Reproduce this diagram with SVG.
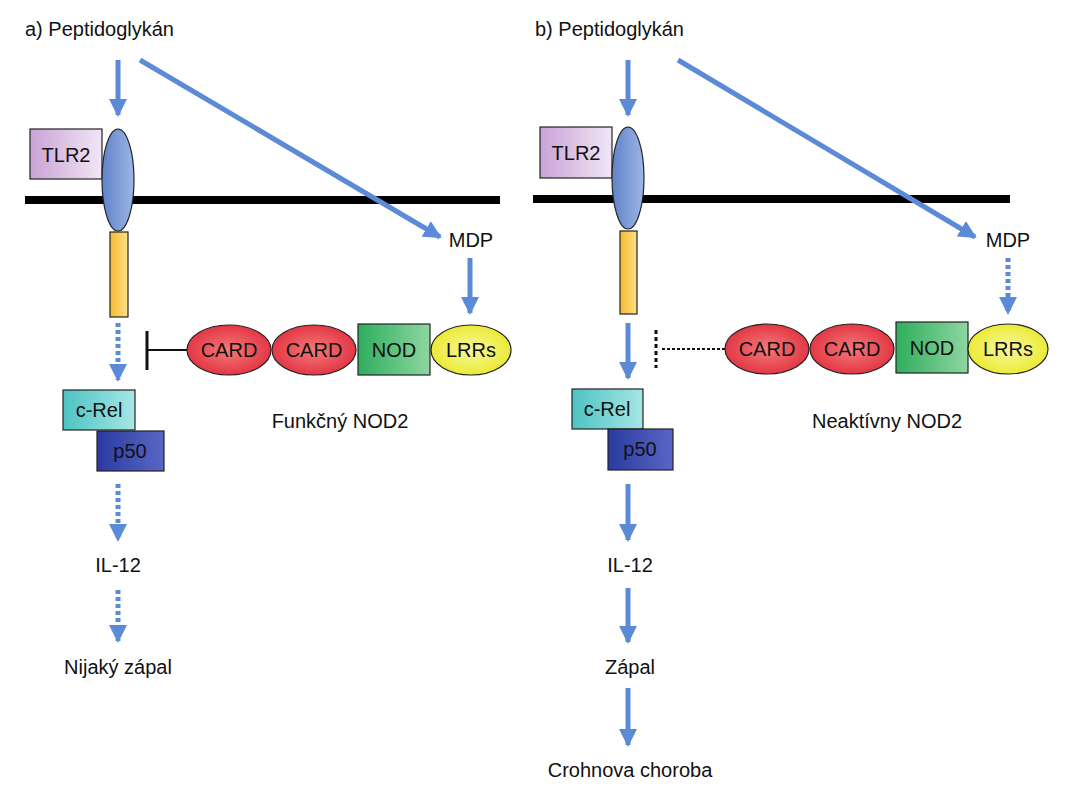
<svg xmlns="http://www.w3.org/2000/svg" width="1067" height="800" viewBox="0 0 1067 800">
<defs>
<marker id="ah" markerUnits="userSpaceOnUse" markerWidth="18" markerHeight="18" viewBox="0 0 18 18" refX="16" refY="9" orient="auto"><path d="M0,0 L18,9 L0,18 Z" fill="#5b8bd6"/></marker>
<linearGradient id="gTlr" x1="0" y1="0" x2="1" y2="0"><stop offset="0" stop-color="#c9a3d6"/><stop offset="1" stop-color="#f1e6f5"/></linearGradient>
<linearGradient id="gEl" x1="0" y1="0" x2="1" y2="0"><stop offset="0" stop-color="#5f82c8"/><stop offset="1" stop-color="#9cb6e6"/></linearGradient>
<linearGradient id="gOr" x1="0" y1="0" x2="1" y2="0"><stop offset="0" stop-color="#f5b92e"/><stop offset="1" stop-color="#ffe08a"/></linearGradient>
<linearGradient id="gRel" x1="0" y1="0" x2="1" y2="0"><stop offset="0" stop-color="#4ec3c3"/><stop offset="1" stop-color="#a6e6e6"/></linearGradient>
<linearGradient id="gP50" x1="0" y1="0" x2="1" y2="0"><stop offset="0" stop-color="#2a3aa0"/><stop offset="1" stop-color="#5a66c4"/></linearGradient>
<radialGradient id="gCard" cx="0.5" cy="0.5" r="0.6"><stop offset="0" stop-color="#f47a7a"/><stop offset="1" stop-color="#e02a3a"/></radialGradient>
<linearGradient id="gNod" x1="0" y1="0" x2="1" y2="0"><stop offset="0" stop-color="#2fae5e"/><stop offset="1" stop-color="#8dd6a0"/></linearGradient>
<radialGradient id="gLrr" cx="0.5" cy="0.5" r="0.6"><stop offset="0" stop-color="#f8f8a0"/><stop offset="1" stop-color="#e8e820"/></radialGradient>
</defs>
<style>
text{font-family:"Liberation Sans",Arial,sans-serif;font-size:20px;fill:#111}
.c{text-anchor:middle}
.sh{stroke:#222;stroke-width:1.2}
.a{stroke:#5b8bd6;stroke-width:5;fill:none;marker-end:url(#ah)}
.d{stroke-dasharray:4 3}
.mem{stroke:#000;stroke-width:8}
</style>
<rect width="1067" height="800" fill="#fff"/>
<g id="membranes">
<line class="mem" x1="25" y1="200" x2="500" y2="200"/>
<line class="mem" x1="533" y1="199" x2="1010" y2="199"/>
</g>
<g id="labels">
<text x="25" y="36">a) Peptidoglykán</text>
<text x="535" y="36">b) Peptidoglykán</text>
<text x="471" y="247" class="c">MDP</text>
<text x="1008" y="247" class="c">MDP</text>
<text x="340" y="428" class="c">Funkčný NOD2</text>
<text x="887" y="428" class="c">Neaktívny NOD2</text>
<text x="118" y="572" class="c">IL-12</text>
<text x="118" y="674" class="c">Nijaký zápal</text>
<text x="630" y="572" class="c">IL-12</text>
<text x="630" y="674" class="c">Zápal</text>
<text x="630" y="777" class="c">Crohnova choroba</text>
</g>
<g id="connectors">
<line class="a" x1="118" y1="60" x2="118" y2="115"/>
<line class="a" x1="140" y1="60" x2="440" y2="237"/>
<line class="a" x1="470" y1="258" x2="470" y2="313"/>
<line class="a d" x1="118" y1="323" x2="118" y2="380"/>
<line class="a d" x1="118" y1="484" x2="118" y2="540"/>
<line class="a d" x1="118" y1="590" x2="118" y2="641"/>
<line x1="187" y1="350" x2="147" y2="350" stroke="#111" stroke-width="2"/>
<line x1="147" y1="331" x2="147" y2="370" stroke="#111" stroke-width="3"/>
<line class="a" x1="628" y1="60" x2="628" y2="115"/>
<line class="a" x1="678" y1="60" x2="975" y2="237"/>
<line class="a d" x1="1008" y1="258" x2="1008" y2="313"/>
<line class="a" x1="628" y1="323" x2="628" y2="378"/>
<line class="a" x1="628" y1="484" x2="628" y2="540"/>
<line class="a" x1="628" y1="588" x2="628" y2="642"/>
<line class="a" x1="628" y1="688" x2="628" y2="745"/>
<line x1="725" y1="349" x2="660" y2="349" stroke="#111" stroke-width="2" stroke-dasharray="3 2"/>
<line x1="656" y1="330" x2="656" y2="368" stroke="#111" stroke-width="3" stroke-dasharray="4 3"/>
</g>
<g id="tlr2-a"><rect class="sh" x="30" y="129" width="72" height="50" fill="url(#gTlr)"/><text x="66" y="162" class="c">TLR2</text></g>
<g id="receptor-a"><ellipse class="sh" cx="118" cy="180" rx="16" ry="51" fill="url(#gEl)"/><rect class="sh" x="110" y="232" width="18" height="85" fill="url(#gOr)"/></g>
<g id="nfkb-a"><rect class="sh" x="63" y="390" width="72" height="40" fill="url(#gRel)"/><text x="99" y="417" class="c">c-Rel</text><rect class="sh" x="97" y="431" width="67" height="40" fill="url(#gP50)"/><text x="130" y="458" class="c">p50</text></g>
<g id="nod2-a">
<ellipse class="sh" cx="229" cy="350" rx="42" ry="25" fill="url(#gCard)"/><text x="229" y="357" class="c">CARD</text>
<ellipse class="sh" cx="314" cy="350" rx="42" ry="25" fill="url(#gCard)"/><text x="314" y="357" class="c">CARD</text>
<rect class="sh" x="358" y="324" width="72" height="51" fill="url(#gNod)"/><text x="394" y="357" class="c">NOD</text>
<ellipse class="sh" cx="471" cy="350" rx="40" ry="25" fill="url(#gLrr)"/><text x="471" y="357" class="c">LRRs</text>
</g>
<g id="tlr2-b"><rect class="sh" x="540" y="127" width="72" height="51" fill="url(#gTlr)"/><text x="576" y="160" class="c">TLR2</text></g>
<g id="receptor-b"><ellipse class="sh" cx="628" cy="178" rx="16" ry="51" fill="url(#gEl)"/><rect class="sh" x="620" y="231" width="17" height="83" fill="url(#gOr)"/></g>
<g id="nfkb-b"><rect class="sh" x="572" y="389" width="71" height="40" fill="url(#gRel)"/><text x="607" y="416" class="c">c-Rel</text><rect class="sh" x="608" y="429" width="65" height="41" fill="url(#gP50)"/><text x="640" y="456" class="c">p50</text></g>
<g id="nod2-b">
<ellipse class="sh" cx="767" cy="349" rx="42" ry="25" fill="url(#gCard)"/><text x="767" y="356" class="c">CARD</text>
<ellipse class="sh" cx="852" cy="349" rx="42" ry="25" fill="url(#gCard)"/><text x="852" y="356" class="c">CARD</text>
<rect class="sh" x="896" y="322" width="72" height="51" fill="url(#gNod)"/><text x="932" y="355" class="c">NOD</text>
<ellipse class="sh" cx="1008" cy="349" rx="40" ry="25" fill="url(#gLrr)"/><text x="1008" y="356" class="c">LRRs</text>
</g>
</svg>
